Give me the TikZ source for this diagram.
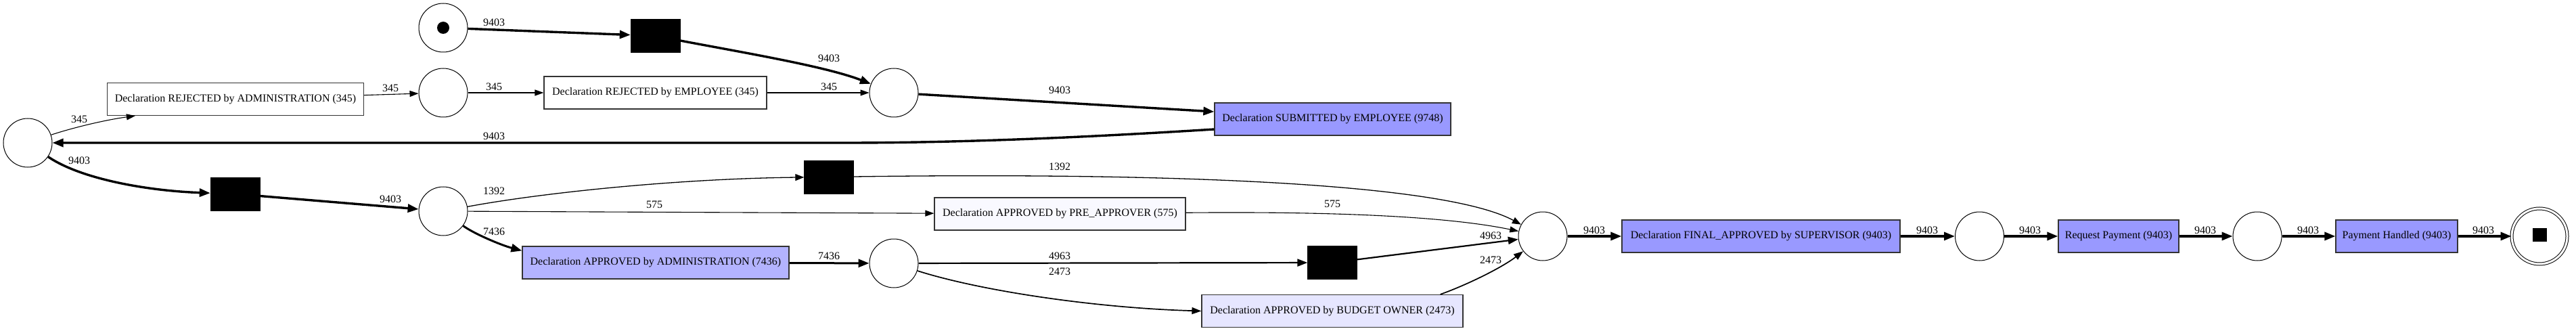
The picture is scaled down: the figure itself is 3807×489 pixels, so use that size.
\documentclass[tikz,border=0pt]{standalone}
\usepackage{fontspec}
\setmainfont{Liberation Serif}
\usetikzlibrary{arrows.meta,calc}
\definecolor{actdark}{HTML}{9999FF}
\definecolor{actmid}{HTML}{B3B3FF}
\definecolor{actlight}{HTML}{E6E6FF}
\definecolor{actpale}{HTML}{F9F9FF}
\definecolor{boxline}{HTML}{333333}
\begin{document}
\begin{tikzpicture}[x=1pt,y=-1pt,
  every node/.style={font=\fontsize{16}{19}\selectfont},
  place/.style={circle,draw,line width=1pt,minimum size=72pt,inner sep=0pt},
  hiddentr/.style={rectangle,fill=black,draw=black,minimum width=73pt,minimum height=49pt,inner sep=0pt},
  acttr/.style={rectangle,draw=boxline,line width=1.2pt,minimum height=48pt,inner xsep=8pt,inner ysep=0pt},
  lbl/.style={inner sep=0pt},
  arcA/.style={line width=1.1pt,-{Triangle[length=13pt,width=9pt]}},
  arcB/.style={line width=1.3pt,-{Triangle[length=13pt,width=10pt]}},
  arcC/.style={line width=1.7pt,-{Triangle[length=14pt,width=10pt]}},
  arcD/.style={line width=2.2pt,-{Triangle[length=15pt,width=11pt]}},
  arcE/.style={line width=3pt,-{Triangle[length=16pt,width=12pt]}},
  arcF/.style={line width=3.4pt,-{Triangle[length=16pt,width=12pt]}}
]
\useasboundingbox (0,0) rectangle (3807,489);
\fill[white] (0,0) rectangle (3807,489);

% places
\node[place] (ps) at (655,41) {};
\fill (ps.center) circle (9pt);
\node[place] (p1) at (41,211) {};
\node[place] (p2) at (655,137) {};
\node[place] (p3) at (655,312) {};
\node[place] (p4) at (1321,137) {};
\node[place] (p5) at (1321,389) {};
\node[place] (p6) at (2280,349) {};
\node[place] (p7) at (2925.5,349) {};
\node[place] (p8) at (3336,349) {};
\node[place,minimum size=82pt,double,double distance=3pt,line width=1pt] (pe) at (3753,349) {};
\node[fill=black,minimum width=21pt,minimum height=20pt,inner sep=0pt] (tok) at (3753,347) {};

% transitions
\node[hiddentr] (h1) at (968.5,53) {};
\node[hiddentr] (h0) at (347.5,286.5) {};
\node[hiddentr] (h2) at (1225,261.5) {};
\node[hiddentr] (h3) at (1969,388) {};
\node[acttr,fill=white,minimum width=379pt] (rA) at (348,146.5) {Declaration REJECTED by ADMINISTRATION (345)};
\node[acttr,fill=white,minimum width=329pt] (rE) at (968.5,137) {Declaration REJECTED by EMPLOYEE (345)};
\node[acttr,fill=actdark,minimum width=349pt] (sub) at (1969.5,176) {Declaration SUBMITTED by EMPLOYEE (9748)};
\node[acttr,fill=actpale,minimum width=371pt] (pre) at (1566.5,316) {Declaration APPROVED by PRE\_APPROVER (575)};
\node[acttr,fill=actmid,minimum width=394pt] (adm) at (969,388) {Declaration APPROVED by ADMINISTRATION (7436)};
\node[acttr,fill=actlight,minimum width=386pt] (bud) at (1969,459.5) {Declaration APPROVED by BUDGET OWNER (2473)};
\node[acttr,fill=actdark,minimum width=411pt] (fin) at (2602.5,349) {Declaration FINAL\_APPROVED by SUPERVISOR (9403)};
\node[acttr,fill=actdark,minimum width=178pt] (req) at (3131,349) {Request Payment (9403)};
\node[acttr,fill=actdark,minimum width=180pt] (pay) at (3542,349) {Payment Handled (9403)};

% arcs
\draw[arcF] (ps) -- (h1);
\draw[arcF] (h1) .. controls (1100,78) and (1220,98) .. (p4);
\draw[arcA] (p1) .. controls (100,191) and (150,178) .. ($(rA.south west)+(42,0)$);
\draw[arcA] (rA) -- (p2);
\draw[arcA] (p2) -- (rE);
\draw[arcA] (rE) -- (p4);
\draw[arcF] (p4) -- ($(sub.west)+(0,-11)$);
\draw[arcF] ($(sub.west)+(0,15)$) .. controls (1650,200) and (1450,211) .. (1250,211) -- (p1);
\draw[arcF] (p1) .. controls (120,265) and (220,282) .. (h0);
\draw[arcF] (h0) -- (p3);
\draw[arcB] (p3) .. controls (800,285) and (1000,264) .. (h2);
\draw[arcA] (p3) -- (pre);
\draw[arcE] (p3) .. controls (700,345) and (740,362) .. ($(adm.north west)+(0,7)$);
\draw[arcE] (adm) -- (p5);
\draw[arcB] (h2) .. controls (1700,255) and (2130,268) .. (p6);
\draw[arcA] (pre) .. controls (2000,312) and (2150,322) .. (p6);
\draw[arcD] (p5) -- (h3);
\draw[arcD] (h3) -- (p6);
\draw[arcC] (p5) .. controls (1450,430) and (1620,455) .. (bud.west);
\draw[arcC] ($(bud.north east)+(-34,0)$) .. controls (2170,420) and (2220,395) .. (p6);
\draw[arcF] (p6) -- (fin);
\draw[arcF] (fin) -- (p7);
\draw[arcF] (p7) -- (req);
\draw[arcF] (req) -- (p8);
\draw[arcF] (p8) -- (pay);
\draw[arcF] (pay) -- (pe);

% arc labels
\node[lbl] (l1) at (730,33) {9403};
\node[lbl] (l2) at (1225,86) {9403};
\node[lbl] (l3) at (117,176) {345};
\node[lbl] (l4) at (577,130) {345};
\node[lbl] (l5) at (730,128) {345};
\node[lbl] (l6) at (1225,128) {345};
\node[lbl] (l7) at (1566,133) {9403};
\node[lbl] (l8) at (730,201) {9403};
\node[lbl] (l9) at (117,237) {9403};
\node[lbl] (l10) at (577,294) {9403};
\node[lbl] (l11) at (730,282) {1392};
\node[lbl] (l12) at (967,302) {575};
\node[lbl] (l13) at (730,342) {7436};
\node[lbl] (l14) at (1225,378) {7436};
\node[lbl] (l15) at (1566,246) {1392};
\node[lbl] (l16) at (1969,301) {575};
\node[lbl] (l17) at (1566,378) {4963};
\node[lbl] (l18) at (1566,401) {2473};
\node[lbl] (l19) at (2203,348) {4963};
\node[lbl] (l20) at (2203,384) {2473};
\node[lbl] (l21) at (2356,340) {9403};
\node[lbl] (l22) at (2848,340) {9403};
\node[lbl] (l23) at (3000,340) {9403};
\node[lbl] (l24) at (3259,340) {9403};
\node[lbl] (l25) at (3411,340) {9403};
\node[lbl] (l26) at (3670,340) {9403};
\end{tikzpicture}
\end{document}
